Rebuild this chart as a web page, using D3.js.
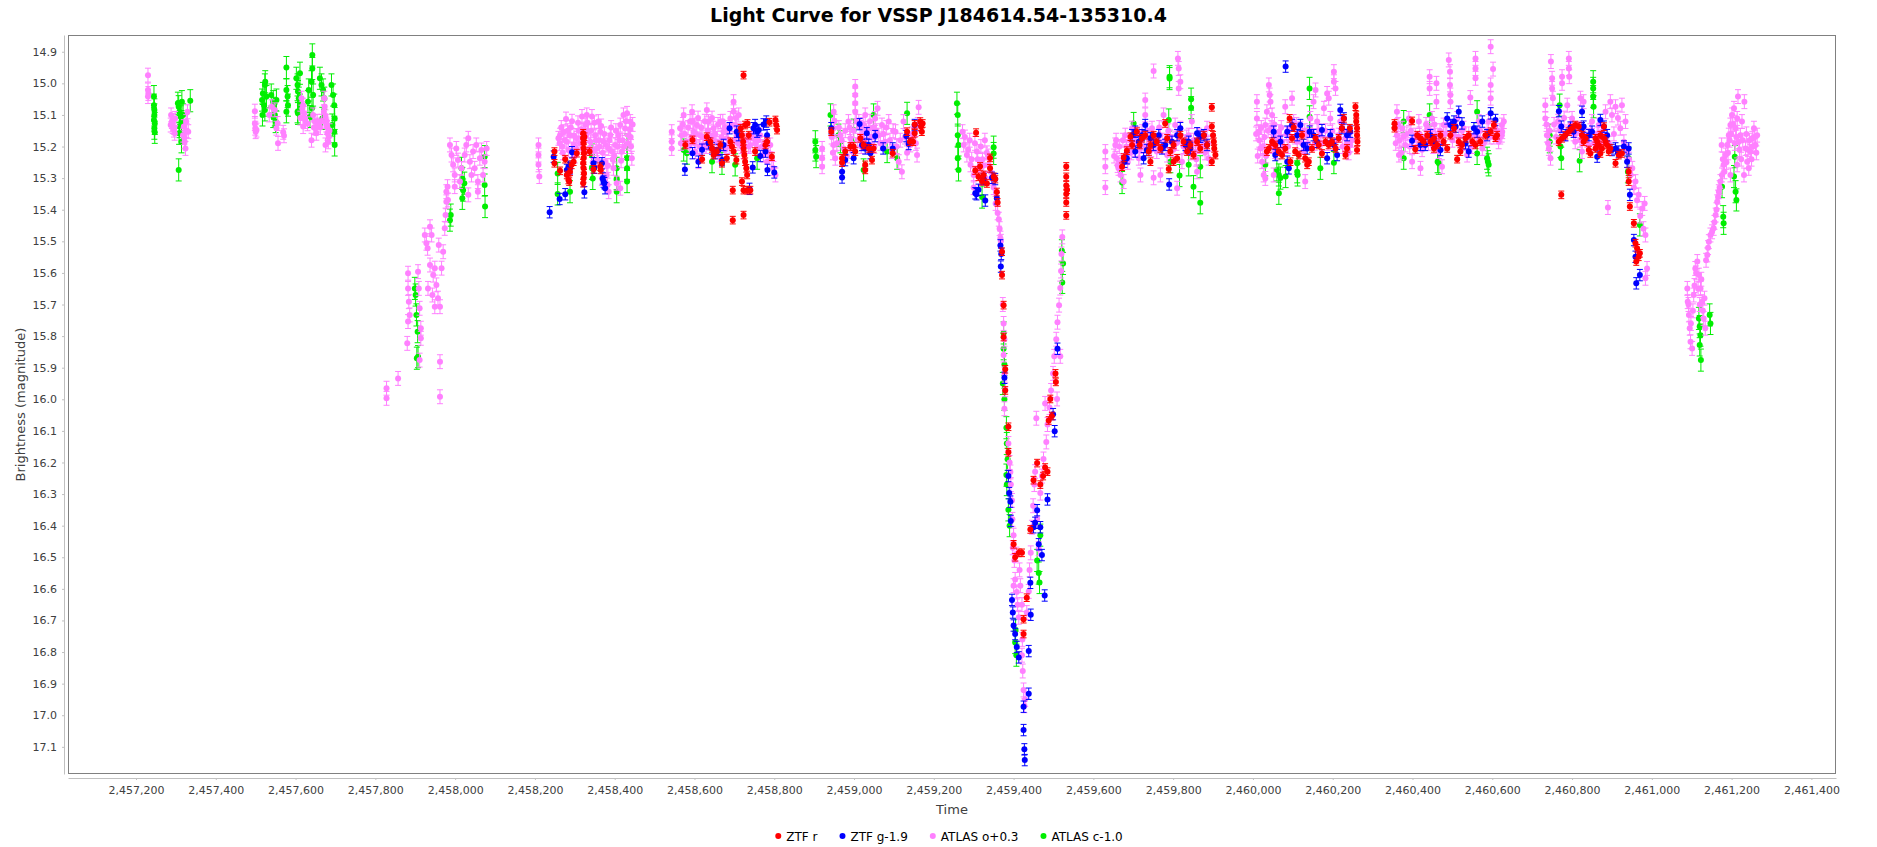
<!DOCTYPE html>
<html>
<head>
<meta charset="utf-8">
<script src="https://cdn.jsdelivr.net/npm/d3@7/dist/d3.min.js"></script>
<style>
  body { margin: 0; background: #fff; }
  svg { display: block; }
  text { font-family: "DejaVu Sans", Verdana, sans-serif; }
</style>
</head>
<body>
<svg id="chart" width="1877" height="847"></svg>
<script>
// time values are JD - 2450000
const JD0 = 2450000;

const ztfR = [
  [8249,15.216],[8249,15.253],[8263,15.277],[8276,15.240],[8280,15.290],[8284,15.306],[8288,15.280],[8292,15.258],[8297,15.248],[8286,15.311],[8305,15.221],
  [8321,15.158],[8321,15.174],[8322,15.190],[8322,15.206],[8323,15.221],[8322,15.237],[8321,15.253],[8322,15.269],[8323,15.285],[8322,15.301],[8321,15.316],[8324,15.169],
  [8337,15.216],[8347,15.272],[8364,15.264],[8365,15.274],
  [8577,15.195],[8595,15.179],[8619,15.240],[8631,15.169],[8640,15.185],[8644,15.206],[8648,15.227],[8656,15.216],[8665,15.195],[8669,15.253],[8681,15.237],[8690,15.185],[8698,15.216],[8705,15.243],[8694,15.200],
  [8723,14.974],[8696,15.338],[8696,15.433],[8723,15.417],
  [8716,15.142],[8719,15.164],[8722,15.185],[8723,15.206],[8725,15.227],[8727,15.248],[8730,15.269],[8732,15.290],[8719,15.311],[8727,15.132],[8733,15.127],[8736,15.164],[8723,15.338],[8732,15.338],[8740,15.338],
  [8752,15.216],[8778,15.195],[8782,15.185],[8788,15.123],[8794,15.232],[8803,15.116],[8805,15.132],[8807,15.148],
  [8943,15.153],[8970,15.237],[8970,15.251],[8978,15.216],[8991,15.200],[8999,15.200],[9003,15.216],[9016,15.174],[9024,15.195],[9028,15.258],[9028,15.274],[9037,15.206],[9045,15.243],[9049,15.206],[9097,15.221],[9133,15.153],[9140,15.185],[9148,15.185],[9152,15.158],[9152,15.130],[9166,15.121],[9168,15.137],[9170,15.153],[9172,15.127],
  [9306,15.156],[9304,15.276],[9312,15.296],[9316,15.263],[9321,15.310],[9325,15.290],[9333,15.317],[9341,15.236],[9341,15.269],[9350,15.296],[9354,15.303],[9358,15.344],[9360,15.377],
  [9371,15.533],[9371,15.607],[9375,15.702],[9375,15.803],[9379,15.905],[9379,15.972],[9387,16.087],[9387,16.168],[9400,16.459],[9404,16.500],[9413,16.486],[9421,16.486],[9425,16.696],[9425,16.743],[9433,16.628],[9442,16.412],[9450,16.256],[9459,16.202],[9467,16.270],[9474,16.243],[9479,16.216],[9485,16.229],[9488,16.067],[9492,15.999],[9496,16.053],[9505,15.918],[9506,15.945],
  [9532,15.263],[9532,15.296],[9532,15.323],[9532,15.350],[9532,15.377],[9532,15.418],[9534,15.337],
  [9672,15.264],[9676,15.235],[9684,15.213],[9693,15.169],[9697,15.195],[9709,15.153],[9716,15.195],[9722,15.174],[9730,15.164],[9739,15.216],[9743,15.195],[9751,15.164],[9759,15.185],[9768,15.206],[9780,15.127],[9785,15.174],[9789,15.271],[9793,15.216],[9801,15.195],[9810,15.237],[9818,15.164],[9826,15.185],[9835,15.216],[9843,15.195],[9851,15.227],[9860,15.185],[9868,15.206],[9877,15.164],[9885,15.195],[9897,15.076],[9897,15.137],[9900,15.164],[9902,15.185],[9903,15.206],[9906,15.227],[9897,15.248],[9801,15.248],[9743,15.248],
  [10035,15.216],[10040,15.206],[10048,15.185],[10056,15.195],[10065,15.216],[10073,15.227],[10081,15.206],[10092,15.111],[10098,15.174],[10102,15.140],[10106,15.216],[10115,15.227],[10123,15.164],[10131,15.237],[10140,15.248],[10148,15.206],[10157,15.174],[10165,15.195],[10173,15.222],[10182,15.185],[10190,15.195],[10198,15.185],[10207,15.206],[10215,15.174],[10223,15.142],[10228,15.111],[10236,15.206],[10243,15.142],[10257,15.074],[10259,15.100],[10259,15.121],[10261,15.142],[10261,15.164],[10262,15.185],[10261,15.211],[10232,15.227],[10136,15.258],[10094,15.248],
  [10355,15.127],[10355,15.142],[10399,15.119],[10407,15.209],[10412,15.164],[10420,15.174],[10428,15.185],[10437,15.164],[10445,15.185],[10454,15.174],[10462,15.195],[10470,15.164],[10478,15.185],[10487,15.206],[10495,15.164],[10504,15.142],[10512,15.240],[10516,15.185],[10524,15.195],[10533,15.174],[10541,15.164],[10550,15.185],[10558,15.195],[10570,15.185],[10583,15.164],[10596,15.153],[10604,15.132],[10608,15.172],[10612,15.164],[10454,15.206],[10520,15.216],
  [10773,15.353],[10767,15.185],[10775,15.174],[10783,15.164],[10792,15.153],[10800,15.142],[10808,15.132],[10817,15.137],[10825,15.164],[10834,15.174],[10842,15.211],[10846,15.222],[10829,15.185],
  [10859,15.174],[10863,15.185],[10867,15.195],[10871,15.164],[10875,15.206],[10880,15.174],[10884,15.185],[10888,15.195],[10892,15.216],[10896,15.206],[10859,15.206],[10871,15.222],[10880,15.137],
  [10909,15.253],[10917,15.227],[10925,15.222],[10942,15.280],[10942,15.311],[10945,15.390],[10955,15.443],[10959,15.506],[10963,15.522],[10967,15.549],[10970,15.538],[10961,15.564]
];

const ztfG = [
  [8237,15.408],[8247,15.232],[8262,15.366],[8276,15.351],[8280,15.274],[8284,15.264],[8288,15.269],[8293,15.218],[8324,15.345],[8347,15.253],[8349,15.267],[8368,15.253],[8370,15.301],[8374,15.316],[8376,15.332],[8372,15.311],
  [8576,15.273],[8595,15.221],[8610,15.248],[8619,15.210],[8635,15.190],[8644,15.206],[8652,15.221],[8660,15.211],[8669,15.243],[8673,15.195],[8688,15.142],[8706,15.153],[8711,15.164],[8738,15.334],[8746,15.266],[8748,15.142],[8752,15.132],[8757,15.153],[8761,15.148],[8765,15.230],[8773,15.130],[8778,15.216],[8782,15.164],[8783,15.274],[8800,15.282],[8780,15.121],
  [8943,15.142],[8970,15.280],[8970,15.298],[8978,15.243],[8999,15.237],[9014,15.129],[9020,15.195],[9028,15.206],[9037,15.195],[9041,15.221],[9032,15.158],[9053,15.167],[9073,15.206],[9097,15.206],[9131,15.167],[9137,15.192],[9152,15.132],
  [9307,15.351],[9304,15.348],[9312,15.337],[9325,15.303],[9329,15.371],[9346,15.299],[9354,15.303],[9358,15.364],[9367,15.513],[9368,15.580],[9369,15.540],[9377,15.932],[9387,16.243],[9389,16.297],[9392,16.324],[9393,16.385],[9396,16.635],[9398,16.675],[9400,16.716],[9404,16.743],[9408,16.784],[9413,16.817],[9425,16.973],[9425,17.047],[9427,17.108],[9428,17.142],[9438,16.797],[9438,16.932],[9442,16.581],[9443,16.682],[9450,16.405],[9454,16.391],[9459,16.351],[9463,16.459],[9467,16.405],[9471,16.493],[9478,16.621],[9485,16.317],[9499,16.047],[9503,16.101],[9510,15.840],
  [9678,15.248],[9684,15.237],[9697,15.164],[9705,15.153],[9714,15.185],[9722,15.164],[9730,15.132],[9726,15.237],[9743,15.174],[9751,15.195],[9764,15.164],[9772,15.206],[9780,15.195],[9790,15.320],[9797,15.185],[9810,15.164],[9818,15.142],[9831,15.195],[9839,15.185],[9843,15.206],[9860,15.158],[9868,15.169],[9877,15.164],[9885,15.195],[9705,15.216],[9734,15.211],
  [10052,15.153],[10056,15.227],[10069,15.185],[10082,14.947],[10086,15.153],[10090,15.269],[10098,15.132],[10111,15.164],[10119,15.132],[10127,15.195],[10136,15.206],[10142,15.153],[10152,15.164],[10161,15.185],[10173,15.148],[10186,15.237],[10194,15.164],[10203,15.195],[10211,15.227],[10219,15.084],[10223,15.142],[10228,15.111],[10236,15.164],[10244,15.153],[10086,15.248],
  [10399,15.182],[10420,15.195],[10432,15.195],[10445,15.164],[10454,15.185],[10470,15.211],[10487,15.111],[10495,15.132],[10504,15.121],[10508,15.137],[10516,15.090],[10524,15.127],[10533,15.190],[10541,15.216],[10554,15.142],[10562,15.153],[10575,15.121],[10587,15.164],[10596,15.095],[10608,15.116],
  [10767,15.088],[10773,15.137],[10783,15.164],[10796,15.140],[10804,15.153],[10825,15.090],[10829,15.137],[10842,15.164],[10850,15.153],[10871,15.116],[10880,15.137],[10888,15.164],[10900,15.211],[10909,15.206],[10917,15.216],[10930,15.200],[10938,15.248],[10942,15.206],[10945,15.353],[10955,15.496],[10959,15.549],[10961,15.633],[10970,15.607],[10863,15.232],[10825,15.142]
];

const atlasO = [
  [7230,14.974],[7230,15.021],[7231,15.032],[7230,15.042],
  [7288,15.100],[7290,15.121],[7292,15.137],[7295,15.148],[7297,15.158],[7298,15.111],[7287,15.132],[7293,15.118],[7296,15.140],
  [7318,15.164],[7322,15.185],[7324,15.206],[7326,15.121],[7329,15.090],[7331,15.153],[7320,15.137],[7321,15.172],[7327,15.150],
  [7498,15.088],[7498,15.127],[7499,15.142],[7500,15.153],[7502,15.148],
  [7534,15.100],[7540,15.074],[7548,15.084],[7555,15.127],[7556,15.190],[7552,15.142],[7569,15.155],[7571,15.166],
  [7615,15.047],[7619,15.069],[7621,15.095],[7625,15.121],[7619,15.137],[7612,15.110],[7630,15.128],[7617,15.080],[7623,15.110],
  [7644,15.100],[7648,15.121],[7650,15.142],[7652,15.158],[7656,15.132],[7640,15.180],[7662,15.140],[7665,15.120],[7646,15.140],[7654,15.120],
  [7672,15.047],[7673,15.074],[7675,15.106],[7677,15.132],[7680,15.158],[7682,15.185],[7675,15.195],[7685,15.150],[7671,15.090],[7678,15.120],[7683,15.170],[7679,15.140],
  [7828,15.965],[7828,15.997],[7857,15.934],
  [7882,15.601],[7882,15.649],[7884,15.691],[7886,15.733],[7882,15.754],[7880,15.823],
  [7907,15.596],[7909,15.649],[7911,15.712],[7914,15.775],[7914,15.807],[7911,15.876],
  [7924,15.480],[7928,15.506],[7931,15.522],[7937,15.454],[7941,15.480],[7937,15.575],[7932,15.649],[7945,15.607],[7949,15.585],[7953,15.638],[7957,15.680],[7962,15.707],[7966,15.585],[7970,15.533],[7959,15.512],[7943,15.670],[7949,15.707],
  [7962,15.881],[7962,15.992],
  [7974,15.459],[7976,15.417],[7978,15.375],[7978,15.343],[7981,15.327],[7982,15.369],
  [7987,15.195],[7991,15.227],[7995,15.258],[7999,15.290],[8003,15.206],[8007,15.243],[8012,15.311],[8016,15.269],[7999,15.327],
  [8024,15.227],[8028,15.195],[8033,15.174],[8037,15.248],[8041,15.290],[8045,15.216],[8049,15.269],[8053,15.195],[8057,15.311],[8062,15.237],[8066,15.211],[8070,15.290],[8074,15.248],[8079,15.206],[8057,15.343],[8033,15.353],
  [8209,15.195],[8209,15.227],[8209,15.258],[8211,15.295],
  [8259,15.174],[8263,15.164],[8268,15.200],[8272,15.153],[8278,15.113],[8280,15.185],[8284,15.211],[8288,15.164],[8297,15.195],[8305,15.174],[8318,15.105],[8326,15.132],[8330,15.100],[8334,15.153],[8339,15.185],[8343,15.105],[8351,15.164],[8355,15.206],[8364,15.153],[8372,15.185],[8376,15.248],[8380,15.290],[8382,15.322],[8385,15.343],[8389,15.164],[8393,15.216],[8397,15.269],[8401,15.195],[8405,15.316],[8410,15.164],[8414,15.132],[8418,15.216],[8422,15.100],[8426,15.143],[8431,15.095],[8435,15.164],[8439,15.121],[8443,15.237],[8414,15.332],[8385,15.206],[8368,15.301],[8359,15.121],[8347,15.216],[8290,15.140],[8300,15.230],[8310,15.150],[8320,15.180],[8345,15.250],[8360,15.180],[8395,15.240],[8420,15.180],[8440,15.170],
  [8262,15.190],[8266,15.140],[8270,15.220],[8275,15.180],[8282,15.150],[8293,15.120],[8298,15.165],[8303,15.205],[8308,15.125],[8313,15.190],[8316,15.145],[8323,15.215],[8328,15.165],[8332,15.125],[8337,15.205],[8341,15.150],[8349,15.125],[8353,15.180],[8357,15.240],[8362,15.200],[8366,15.135],[8370,15.220],[8374,15.160],[8378,15.195],[8383,15.260],[8387,15.180],[8391,15.140],[8399,15.230],[8403,15.150],[8408,15.200],[8412,15.180],[8416,15.245],[8424,15.200],[8428,15.120],[8433,15.190],[8437,15.145],[8441,15.200],[8445,15.130],
  [8543,15.153],[8543,15.185],[8543,15.206],
  [8564,15.142],[8568,15.164],[8573,15.100],[8581,15.185],[8589,15.121],[8594,15.090],[8598,15.153],[8602,15.216],[8606,15.132],[8614,15.164],[8623,15.195],[8631,15.084],[8635,15.121],[8640,15.164],[8648,15.142],[8656,15.185],[8665,15.121],[8673,15.153],[8681,15.174],[8690,15.111],[8698,15.058],[8698,15.090],[8702,15.132],[8706,15.164],[8711,15.100],[8723,15.216],[8740,15.195],[8748,15.174],[8757,15.206],[8765,15.164],[8773,15.227],[8782,15.248],[8790,15.195],[8798,15.269],[8803,15.290],[8660,15.227],[8677,15.211],[8610,15.248],
  [8566,15.190],[8571,15.130],[8576,15.160],[8584,15.140],[8587,15.200],[8592,15.170],[8596,15.120],[8600,15.190],[8604,15.160],[8609,15.110],[8612,15.200],[8617,15.140],[8621,15.170],[8626,15.120],[8629,15.200],[8633,15.150],[8637,15.190],[8644,15.110],[8646,15.175],[8652,15.160],[8659,15.130],[8662,15.190],[8668,15.170],[8671,15.120],[8676,15.140],[8684,15.150],[8687,15.200],[8694,15.130],[8700,15.180],[8704,15.110],[8709,15.190],[8714,15.150],[8718,15.200],[8729,15.180],[8736,15.200],[8744,15.160],[8752,15.190],[8760,15.180],[8769,15.200],[8777,15.190],[8786,15.220],[8794,15.240],
  [8920,15.206],[8920,15.237],[8920,15.264],
  [8949,15.090],[8949,15.142],[8949,15.195],[8953,15.237],[8966,15.164],[8974,15.206],[8986,15.121],[8991,15.174],[8995,15.216],
  [9003,15.010],[9003,15.037],[9003,15.063],[9003,15.090],
  [9012,15.121],[9020,15.164],[9028,15.100],[9037,15.142],[9045,15.195],[9053,15.111],[9062,15.164],[9070,15.132],[9078,15.185],[9087,15.121],[9095,15.216],[9104,15.153],[9112,15.248],[9120,15.280],[9124,15.121],[9141,15.195],[9150,15.164],[9158,15.227],[9162,15.076],[9059,15.079],
  [8944,15.170],[8947,15.220],[8951,15.120],[8957,15.190],[8962,15.140],[8969,15.180],[8978,15.150],[8982,15.230],[8989,15.140],[8993,15.190],[8999,15.150],[9006,15.120],[9009,15.180],[9015,15.140],[9018,15.200],[9023,15.130],[9026,15.180],[9031,15.150],[9034,15.200],[9040,15.120],[9043,15.170],[9048,15.140],[9051,15.200],[9056,15.150],[9066,15.190],[9074,15.160],[9081,15.140],[9090,15.180],[9098,15.150],[9107,15.200],[9116,15.180],[9128,15.170],[9133,15.220],[9145,15.160],[9155,15.190],[9160,15.130],
  [9272,15.153],[9275,15.195],[9283,15.227],[9292,15.258],[9300,15.290],[9308,15.216],[9312,15.269],[9318,15.200],[9322,15.240],[9328,15.180],[9333,15.220],[9338,15.260],[9345,15.300],[9290,15.180],[9300,15.330],
  [9278,15.170],[9286,15.210],[9295,15.240],[9303,15.190],[9310,15.240],[9315,15.300],[9325,15.260],[9330,15.300],[9336,15.230],[9342,15.280],[9350,15.330],[9355,15.380],
  [9360,15.41],[9363,15.43],[9365,15.46],[9367,15.49],[9368,15.50],
  [9373,15.70],[9375,15.76],[9377,15.81],[9375,15.86],[9377,15.92],[9379,15.97],[9377,16.03],
  [9387,16.14],[9390,16.20],[9392,16.23],[9393,16.27],[9396,16.32],[9397,16.38],[9400,16.43],[9398,16.47],
  [9402,16.51],[9404,16.57],[9408,16.61],[9410,16.65],[9413,16.69],[9415,16.54],[9417,16.59],[9421,16.65],[9400,16.59],[9407,16.49],
  [9421,16.81],[9423,16.86],[9425,16.92],[9427,16.97],[9429,16.95],[9422,16.76],
  [9433,16.675],[9438,16.608],[9440,16.54],[9443,16.486],[9446,16.405],[9449,16.337],[9452,16.27],[9454,16.229],[9457,16.06],[9459,16.378],[9463,16.473],[9467,16.297],[9471,16.243],[9475,16.189],[9479,16.013],[9482,16.135],[9485,16.08],[9490,16.026],[9494,15.972],[9499,15.918],[9502,15.864],[9507,15.81],[9510,15.756],[9514,15.702],[9517,15.648],[9519,15.594],[9520,15.54],[9522,15.486],[9517,15.864],[9509,15.999],
  [9630,15.216],[9630,15.264],[9630,15.330],
  [9655,15.195],[9659,15.237],[9663,15.269],[9668,15.290],[9680,15.164],[9688,15.216],[9697,15.142],[9705,15.185],[9714,15.237],[9722,15.153],[9730,15.053],[9730,15.100],[9739,15.195],[9747,15.142],[9751,14.961],[9751,15.299],[9759,15.216],[9768,15.164],[9776,15.100],[9785,15.227],[9797,15.185],[9805,15.132],[9812,14.921],[9814,14.953],[9814,15.016],[9818,14.995],[9818,15.142],[9822,15.248],[9831,15.185],[9839,15.164],[9847,15.121],[9856,15.216],[9860,15.280],[9864,15.164],[9877,15.195],[9885,15.142],[9889,15.237],[9810,15.332],[9768,15.290],[9718,15.290],[9676,15.311],
  [9652,15.230],[9657,15.180],[9661,15.260],[9665,15.200],[9671,15.250],[9674,15.180],[9683,15.200],[9686,15.250],[9692,15.180],[9695,15.220],[9700,15.170],[9703,15.210],[9708,15.190],[9711,15.160],[9716,15.210],[9720,15.180],[9725,15.200],[9733,15.170],[9736,15.150],[9742,15.180],[9745,15.210],[9755,15.190],[9762,15.180],[9765,15.140],[9772,15.200],[9780,15.180],[9788,15.150],[9793,15.170],[9800,15.210],[9808,15.190],[9816,15.170],[9826,15.200],[9834,15.170],[9843,15.220],[9851,15.180],[9858,15.240],[9866,15.200],[9872,15.170],[9880,15.220],[9887,15.190],
  [10010,15.058],[10010,15.111],[10014,15.153],[10019,15.206],[10023,15.248],[10027,15.290],[10031,15.132],[10035,15.090],[10040,15.005],[10042,15.037],[10044,15.058],[10048,15.100],[10052,15.164],[10056,15.216],[10065,15.153],[10073,15.185],[10081,15.074],[10090,15.164],[10098,15.047],[10102,15.121],[10111,15.185],[10119,15.142],[10127,15.216],[10136,15.164],[10144,15.111],[10152,15.058],[10157,15.021],[10161,15.121],[10169,15.164],[10178,15.079],[10186,15.032],[10190,15.047],[10194,15.111],[10203,14.963],[10203,14.995],[10207,15.016],[10215,15.164],[10219,15.121],[10232,15.174],[10244,15.195],[10131,15.311],[10031,15.301],[10052,15.290],
  [10008,15.160],[10012,15.230],[10016,15.180],[10021,15.140],[10025,15.200],[10029,15.170],[10033,15.230],[10038,15.150],[10046,15.140],[10050,15.200],[10054,15.130],[10058,15.180],[10062,15.220],[10067,15.170],[10071,15.140],[10076,15.200],[10084,15.160],[10088,15.200],[10094,15.140],[10105,15.170],[10109,15.130],[10114,15.160],[10123,15.190],[10130,15.150],[10138,15.190],[10148,15.150],[10155,15.190],[10165,15.150],[10173,15.190],[10182,15.150],[10188,15.190],[10199,15.150],[10211,15.180],[10225,15.200],[10229,15.150],[10236,15.190],[10240,15.220],[10248,15.180],
  [10361,15.090],[10361,15.164],[10366,15.227],[10374,15.142],[10382,15.195],[10391,15.111],[10399,15.248],[10407,15.164],[10416,15.121],[10420,15.269],[10428,15.185],[10437,15.142],[10443,14.979],[10443,15.016],[10449,15.111],[10458,15.164],[10460,15.000],[10460,15.058],[10466,15.216],[10474,15.264],[10478,15.132],[10491,14.926],[10494,14.963],[10494,15.005],[10495,15.037],[10495,15.058],[10504,15.164],[10512,15.111],[10520,15.195],[10528,15.142],[10537,15.227],[10545,15.045],[10554,15.164],[10558,14.921],[10558,14.953],[10558,14.984],[10566,15.121],[10575,15.206],[10583,15.164],[10591,15.121],[10596,14.884],[10596,15.005],[10596,15.047],[10602,14.955],[10608,15.142],[10616,15.185],[10625,15.153],[10629,15.121],
  [10358,15.190],[10364,15.130],[10368,15.180],[10372,15.220],[10377,15.170],[10386,15.160],[10393,15.200],[10396,15.150],[10403,15.180],[10411,15.200],[10418,15.160],[10424,15.210],[10431,15.170],[10434,15.130],[10440,15.190],[10446,15.150],[10452,15.200],[10455,15.130],[10463,15.180],[10469,15.150],[10476,15.190],[10482,15.160],[10486,15.130],[10500,15.180],[10508,15.140],[10516,15.170],[10524,15.150],[10532,15.190],[10541,15.160],[10549,15.200],[10562,15.170],[10570,15.150],[10579,15.190],[10587,15.150],[10594,15.170],[10604,15.170],[10612,15.150],[10620,15.170],
  [10624,15.132],[10624,15.164],
  [10733,15.069],[10733,15.111],[10737,15.164],[10742,15.206],[10746,15.237],[10747,14.931],[10750,14.984],[10750,15.016],[10752,15.047],[10775,14.979],[10775,15.000],[10788,15.069],[10792,14.921],[10792,14.953],[10793,14.979],
  [10800,15.111],[10808,15.185],[10817,15.142],[10825,15.216],[10834,15.164],[10842,15.195],[10850,15.121],[10859,15.174],[10867,15.132],[10875,15.153],[10884,15.090],[10896,15.058],[10909,15.074],[10925,15.069],[10921,15.142],[10930,15.185],[10934,15.121],[10938,15.216],[10951,15.269],[10959,15.311],[10967,15.353],[10976,15.396],[10982,15.380],[10984,15.480],[10988,15.586],[10984,15.617],[10890,15.393],[10829,15.058],[10821,15.047],
  [10736,15.130],[10740,15.190],[10744,15.150],[10755,15.130],[10760,15.170],[10765,15.120],[10770,15.150],[10780,15.110],[10785,15.160],[10796,15.130],[10804,15.160],[10812,15.150],[10820,15.180],[10838,15.180],[10846,15.150],[10855,15.190],[10863,15.160],[10871,15.190],[10880,15.170],[10892,15.190],[10900,15.100],[10905,15.160],[10915,15.110],[10943,15.240],[10947,15.290],[10955,15.330],[10963,15.370],[10971,15.420],[10979,15.460],
  [11089,15.649],[11090,15.691],[11093,15.733],[11095,15.775],[11097,15.818],[11101,15.839],[11105,15.670],[11109,15.586],[11114,15.564],[11118,15.607],[11122,15.649],[11126,15.691],[11130,15.744],[11134,15.775],[11139,15.543],[11143,15.501],[11147,15.480],[11155,15.459],[11160,15.417],[11164,15.375],[11168,15.343],[11172,15.311],[11176,15.290],[11175,15.195],[11180,15.258],[11185,15.227],[11189,15.195],[11193,15.164],[11197,15.132],[11201,15.100],[11206,15.079],[11210,15.142],[11214,15.111],[11216,15.042],[11218,15.185],[11222,15.164],[11226,15.121],[11232,15.058],[11235,15.206],[11239,15.248],[11243,15.269],[11247,15.216],[11252,15.174],[11256,15.142],[11260,15.195],[11264,15.164],[11197,15.290],[11214,15.258],[11231,15.290],
  [11092,15.700],[11098,15.760],[11103,15.720],[11107,15.640],[11111,15.600],[11116,15.650],[11120,15.700],[11124,15.620],[11128,15.720],[11132,15.680],[11136,15.560],[11141,15.520],[11151,15.470],[11157,15.440],[11162,15.400],[11166,15.360],[11170,15.330],[11178,15.240],[11182,15.280],[11187,15.250],[11191,15.220],[11195,15.180],[11199,15.160],[11203,15.130],[11208,15.190],[11212,15.170],[11220,15.210],[11224,15.240],[11228,15.180],[11237,15.160],[11241,15.210],[11245,15.180],[11250,15.240],[11254,15.200],[11258,15.170],[11262,15.220]
];

const atlasC = [
  [7245,15.042],[7245,15.069],[7246,15.084],[7246,15.100],[7245,15.116],[7247,15.127],[7246,15.142],[7247,15.155],
  [7305,15.063],[7307,15.074],[7309,15.090],[7312,15.106],[7314,15.121],[7309,15.137],[7308,15.158],[7314,15.185],[7307,15.274],[7318,15.100],[7315,15.058],[7336,15.055],
  [7516,15.053],[7518,15.032],[7521,15.069],[7523,15.005],[7524,14.995],[7527,15.042],[7517,15.100],[7523,15.084],
  [7539,15.037],[7544,15.058],[7546,15.079],[7548,15.100],[7550,15.121],[7552,15.053],[7544,15.105],
  [7577,14.950],[7577,15.021],[7580,15.042],[7581,15.069],[7577,15.090],
  [7602,14.984],[7605,15.005],[7606,15.026],[7608,15.047],[7611,15.069],[7606,15.095],[7611,14.968],[7605,15.090],
  [7631,15.058],[7633,15.021],[7636,15.105],[7640,14.995],[7642,14.910],[7642,14.953],[7644,15.037],[7641,15.079],
  [7661,14.984],[7665,15.005],[7669,15.021],[7672,15.047],[7667,15.111],
  [7690,15.005],[7694,15.037],[7697,15.069],[7698,15.111],[7697,15.153],[7698,15.195],[7692,15.132],
  [7899,15.649],[7901,15.670],[7903,15.733],[7906,15.786],[7907,15.865],[7904,15.870],
  [7987,15.433],[7989,15.417],
  [8016,15.269],[8018,15.301],[8020,15.338],[8018,15.364],[8023,15.316],
  [8074,15.232],[8074,15.322],[8075,15.390],
  [8257,15.285],[8257,15.350],[8288,15.343],[8343,15.227],[8343,15.269],[8345,15.301],[8405,15.269],[8405,15.301],[8405,15.343],[8431,15.195],[8431,15.237],[8431,15.269],[8431,15.311],
  [8573,15.211],[8581,15.221],[8644,15.248],[8669,15.253],[8702,15.258],[8757,15.237],
  [8903,15.185],[8903,15.211],[8905,15.232],[8941,15.100],[8961,15.164],[8966,15.185],[8999,15.148],[9024,15.274],[9049,15.100],[9083,15.216],[9108,15.237],[9133,15.095],
  [9258,15.063],[9260,15.100],[9260,15.164],[9262,15.195],[9260,15.237],[9262,15.274],
  [9321,15.360],[9350,15.202],[9350,15.222],
  [9375,15.79],[9375,15.84],[9377,15.89],[9373,15.95],[9377,16.00],[9382,16.09],[9383,16.14],[9385,16.19],[9382,16.24],[9383,16.27],[9387,16.35],[9390,16.40],[9404,16.77],[9407,16.81],[9405,16.73],[9459,16.51],[9463,16.55],[9465,16.58],[9467,16.43],[9521,15.53],[9524,15.57],[9522,15.63],
  [9672,15.314],[9701,15.127],[9789,15.116],[9791,14.979],[9791,14.985],[9793,15.248],[9816,15.292],[9845,15.050],[9845,15.077],[9839,15.258],[9851,15.327],[9868,15.378],[9868,15.264],
  [10031,15.258],[10060,15.274],[10065,15.290],[10069,15.300],[10065,15.348],[10082,15.295],[10111,15.253],[10111,15.280],[10112,15.290],[10142,15.016],[10142,15.106],[10169,15.269],[10203,15.251],
  [10378,15.121],[10378,15.237],[10443,15.100],[10463,15.248],[10466,15.253],[10562,15.090],[10562,15.222],[10587,15.237],[10589,15.248],[10591,15.258],
  [10744,15.185],[10744,15.164],[10769,15.069],[10771,15.200],[10773,15.237],[10819,15.245],[10853,14.995],[10853,15.016],[10853,15.042],[10854,15.074],[10942,15.237],[10940,15.280],[10970,15.448],
  [11118,15.744],[11120,15.770],[11122,15.797],[11120,15.828],[11123,15.876],[11145,15.733],[11147,15.760],[11176,15.327],[11179,15.422],[11180,15.443],[11206,15.295],[11210,15.343],[11212,15.369],[11208,15.232]
];

const seriesNames = ["ZTF r", "ZTF g-1.9", "ATLAS o+0.3", "ATLAS c-1.0"];
const seriesData = [ztfR, ztfG, atlasO, atlasC];
const seriesErr = [0.012, 0.018, 0.022, 0.035];
const seriesColors = ["#ff0000", "#0000ff", "#ff80ff", "#00ee00"];

const xTickValues = d3.range(7200, 11401, 200);
const yTickValues = [14.9, 15.0, 15.1, 15.2, 15.3, 15.4, 15.5, 15.6, 15.7, 15.8, 15.9, 16.0,
  16.1, 16.2, 16.3, 16.4, 16.5, 16.6, 16.7, 16.8, 16.9, 17.0, 17.1];

const W = 1877, H = 847;
const plot = { left: 68, right: 1836, top: 35, bottom: 774 };
const textColor = "#404040";

const svg = d3.select("#chart");
svg.append("rect").attr("width", W).attr("height", H).attr("fill", "#fff");

const x = d3.scaleLinear().domain([7029.5, 11461.7]).range([plot.left, plot.right]);
const y = d3.scaleLinear().domain([14.847, 17.186]).range([plot.top, plot.bottom]);

// plot frame
svg.append("rect")
  .attr("x", plot.left + 0.5).attr("y", plot.top + 0.5)
  .attr("width", plot.right - plot.left - 1).attr("height", plot.bottom - plot.top - 1)
  .attr("fill", "#fff").attr("stroke", "#808080").attr("stroke-width", 1);

// axes, offset a few pixels from the data area like the original
const fmtJD = d3.format(",");
const xAxis = svg.append("g")
  .attr("transform", `translate(0,${plot.bottom + 4})`)
  .call(d3.axisBottom(x).tickValues(xTickValues).tickSize(2).tickSizeOuter(0).tickPadding(6)
    .tickFormat((d) => fmtJD(d + JD0)));

const yAxis = svg.append("g")
  .attr("transform", `translate(${plot.left - 4},0)`)
  .call(d3.axisLeft(y).tickValues(yTickValues).tickSize(2).tickSizeOuter(0).tickPadding(5)
    .tickFormat(d3.format(".1f")));

[xAxis, yAxis].forEach((ax) => {
  ax.select(".domain").attr("stroke", "#c0c0c0");
  ax.selectAll(".tick line").attr("stroke", "#c0c0c0");
  ax.selectAll(".tick text").attr("fill", textColor).style("font-size", "11px");
});

// data: draw last series first so ZTF r ends up on top
const layer = svg.append("g");
for (let i = seriesData.length - 1; i >= 0; i--) {
  const color = seriesColors[i];
  const err = seriesErr[i];
  const g = layer.append("g");
  const bars = g.append("g").attr("stroke", color).attr("stroke-width", 1);
  seriesData[i].forEach((p) => {
    const px = x(p[0]);
    const y1 = y(p[1] - err), y2 = y(p[1] + err);
    bars.append("line").attr("x1", px).attr("x2", px).attr("y1", y1).attr("y2", y2);
    bars.append("line").attr("x1", px - 3).attr("x2", px + 3).attr("y1", y1).attr("y2", y1);
    bars.append("line").attr("x1", px - 3).attr("x2", px + 3).attr("y1", y2).attr("y2", y2);
  });
  g.append("g").selectAll("circle")
    .data(seriesData[i])
    .join("circle")
    .attr("cx", (d) => x(d[0]))
    .attr("cy", (d) => y(d[1]))
    .attr("r", 3)
    .attr("fill", color);
}

// title and axis labels
svg.append("text")
  .attr("x", W / 2).attr("y", 22)
  .attr("text-anchor", "middle")
  .style("font-size", "19px").style("font-weight", "bold")
  .attr("fill", "#000")
  .text("Light Curve for VSSP J184614.54-135310.4");

svg.append("text")
  .attr("x", (plot.left + plot.right) / 2).attr("y", 814)
  .attr("text-anchor", "middle")
  .style("font-size", "13px").attr("fill", textColor)
  .text("Time");

svg.append("text")
  .attr("transform", `translate(25,${(plot.top + plot.bottom) / 2}) rotate(-90)`)
  .attr("text-anchor", "middle")
  .style("font-size", "13px").attr("fill", textColor)
  .text("Brightness (magnitude)");

// legend
const legend = svg.append("g");
let lx = 0;
seriesNames.forEach((name, i) => {
  const item = legend.append("g").attr("transform", `translate(${lx},0)`);
  item.append("circle").attr("cx", 3).attr("cy", 0).attr("r", 3).attr("fill", seriesColors[i]);
  const t = item.append("text").attr("x", 11).attr("y", 4.5)
    .style("font-size", "12px").attr("fill", "#000").text(name);
  lx += 11 + t.node().getComputedTextLength() + 22;
});
const legendW = lx - 22;
legend.attr("transform", `translate(${949 - legendW / 2},836)`);
</script>
</body>
</html>
